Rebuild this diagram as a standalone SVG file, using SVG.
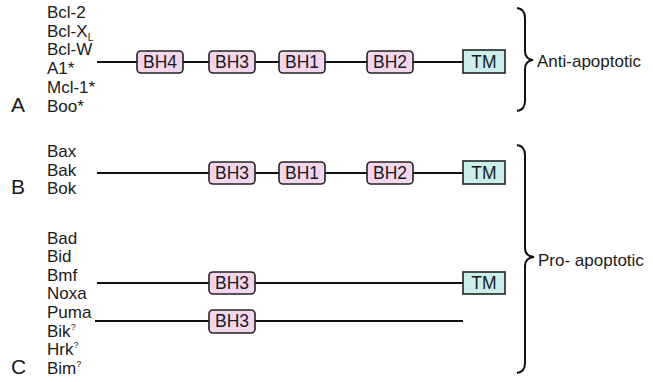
<svg xmlns="http://www.w3.org/2000/svg" width="653" height="382" viewBox="0 0 653 382">
<style>
  text { font-family: "Liberation Sans", Arial, sans-serif; fill: #1a1a1a; }
  .lbl { font-size: 17px; }
  .big { font-size: 21px; }
  .bh { fill: #f2d6ee; stroke: #222; stroke-width: 1.6; }
  .tm { fill: #c9eeec; stroke: #222; stroke-width: 1.6; }
  .bt { font-size: 17.5px; text-anchor: middle; }
  .line { stroke: #111; stroke-width: 2; fill: none; }
  .brace { stroke: #111; stroke-width: 2; fill: none; }
  .sup { font-size: 9px; }
</style>
<rect width="653" height="382" fill="#ffffff"/>

<g id="connectors">
  <line class="line" x1="97" y1="62" x2="463" y2="62"/>
  <line class="line" x1="97" y1="173" x2="463" y2="173"/>
  <line class="line" x1="97" y1="283" x2="463" y2="283"/>
  <line class="line" x1="95" y1="321" x2="463" y2="321"/>
</g>

<g id="rowA-labels">
  <text class="lbl" x="47" y="18">Bcl-2</text>
  <text class="lbl" x="47" y="37">Bcl-X<tspan font-size="10" dy="3.5">L</tspan></text>
  <text class="lbl" x="47" y="55">Bcl-W</text>
  <text class="lbl" x="47" y="74">A1*</text>
  <text class="lbl" x="47" y="93">Mcl-1*</text>
  <text class="lbl" x="47" y="112">Boo*</text>
  <text class="big" x="11" y="112">A</text>
</g>

<g id="rowA-BH4"><rect class="bh" x="137" y="51" width="46" height="22" rx="4"/><text class="bt" x="160" y="68">BH4</text></g>
<g id="rowA-BH3"><rect class="bh" x="209" y="51" width="46" height="22" rx="4"/><text class="bt" x="232" y="68">BH3</text></g>
<g id="rowA-BH1"><rect class="bh" x="279" y="51" width="46" height="22" rx="4"/><text class="bt" x="302" y="68">BH1</text></g>
<g id="rowA-BH2"><rect class="bh" x="367" y="51" width="46" height="22" rx="4"/><text class="bt" x="390" y="68">BH2</text></g>
<g id="rowA-TM"><rect class="tm" x="463" y="50" width="42" height="23"/><text class="bt" x="484" y="68">TM</text></g>

<g id="rowB-labels">
  <text class="lbl" x="47" y="157">Bax</text>
  <text class="lbl" x="47" y="176">Bak</text>
  <text class="lbl" x="47" y="194">Bok</text>
  <text class="big" x="11" y="194">B</text>
</g>
<g id="rowB-BH3"><rect class="bh" x="209" y="162" width="46" height="22" rx="4"/><text class="bt" x="232" y="179">BH3</text></g>
<g id="rowB-BH1"><rect class="bh" x="279" y="162" width="46" height="22" rx="4"/><text class="bt" x="302" y="179">BH1</text></g>
<g id="rowB-BH2"><rect class="bh" x="367" y="162" width="46" height="22" rx="4"/><text class="bt" x="390" y="179">BH2</text></g>
<g id="rowB-TM"><rect class="tm" x="463" y="161" width="42" height="23"/><text class="bt" x="484" y="179">TM</text></g>

<g id="rowC-labels">
  <text class="lbl" x="47" y="244">Bad</text>
  <text class="lbl" x="47" y="262">Bid</text>
  <text class="lbl" x="47" y="281">Bmf</text>
  <text class="lbl" x="47" y="299">Noxa</text>
  <text class="lbl" x="47" y="318">Puma</text>
  <text class="lbl" x="47" y="337">Bik<tspan class="sup" dy="-7">?</tspan></text>
  <text class="lbl" x="47" y="355">Hrk<tspan class="sup" dy="-7">?</tspan></text>
  <text class="lbl" x="47" y="374">Bim<tspan class="sup" dy="-7">?</tspan></text>
  <text class="big" x="11" y="374">C</text>
</g>
<g id="rowC1-BH3"><rect class="bh" x="209" y="272" width="46" height="22" rx="4"/><text class="bt" x="232" y="289">BH3</text></g>
<g id="rowC1-TM"><rect class="tm" x="463" y="272" width="42" height="22"/><text class="bt" x="484" y="289">TM</text></g>
<g id="rowC2-BH3"><rect class="bh" x="209" y="310" width="46" height="23" rx="4"/><text class="bt" x="232" y="327">BH3</text></g>

<g id="anti-brace">
  <path class="brace" d="M517,8 Q525,9 525,18 L525,51 Q525,59 533,60 Q525,61 525,69 L525,101 Q525,110 517,111"/>
  <text class="lbl" x="537" y="67">Anti-apoptotic</text>
</g>
<g id="pro-brace">
  <path class="brace" d="M517,145 Q525,146 525,155 L525,248 Q525,256 534,257 Q525,258 525,266 L525,363 Q525,372 517,373"/>
  <text class="lbl" x="538" y="266">Pro- apoptotic</text>
</g>
</svg>
